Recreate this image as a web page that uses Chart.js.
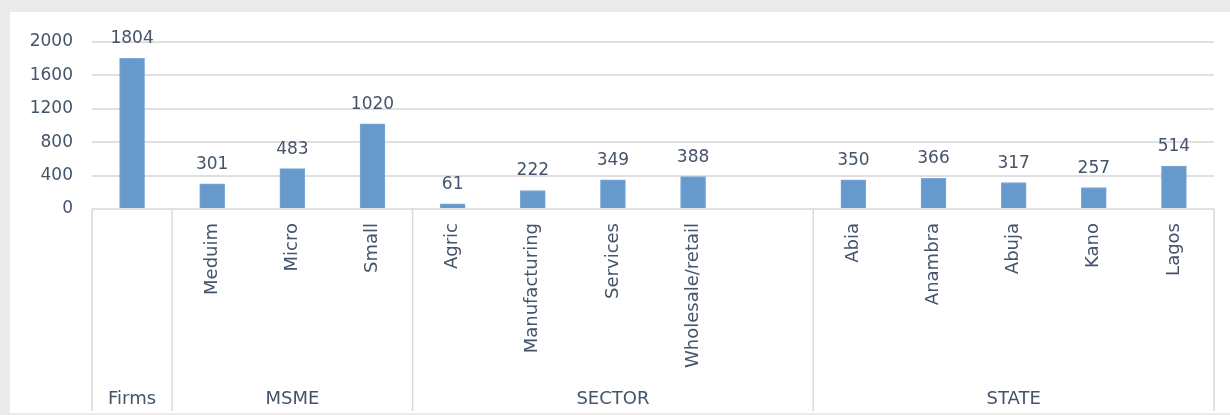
<!DOCTYPE html>
<html>
<head>
<meta charset="utf-8">
<script src="https://cdn.jsdelivr.net/npm/chart.js@4"></script>
<style>
    html, body { margin: 0; padding: 0; background: #ebebeb; }
    #panel { position: absolute; left: 10px; top: 12px; width: 1220px; height: 401px; background: #ffffff; }
</style>
</head>
<body>
<div id="panel"><canvas id="chart" width="1220" height="401"></canvas></div>
<script>
// Categories (inner level), one slot per bar; blank slots have no bar
const categories = ["", "Meduim", "Micro", "Small", "Agric", "Manufacturing", "Services", "Wholesale/retail", "", "Abia", "Anambra", "Abuja", "Kano", "Lagos"];
const values = [1804, 301, 483, 1020, 61, 222, 349, 388, null, 350, 366, 317, 257, 514];

// Outer level of the category axis
const groupNames = ["Firms", "MSME", "SECTOR", "STATE"];
const groupSizes = [1, 3, 5, 5];

const yTicks = [0, 400, 800, 1200, 1600, 2000];

const TEXT = "#44546a";
const FONT = "DejaVu Sans";

// ==========================================
// Data labels above each bar, read from the bar elements
// ==========================================
const valueLabels = {
    id: "valueLabels",
    afterDatasetsDraw(chart) {
        const ctx = chart.ctx;
        const meta = chart.getDatasetMeta(0);
        ctx.save();
        ctx.font = "17px '" + FONT + "'";
        ctx.fillStyle = TEXT;
        ctx.textAlign = "center";
        ctx.textBaseline = "alphabetic";
        meta.data.forEach((bar, i) => {
            if (values[i] === null) return;
            ctx.fillText(String(values[i]), bar.x, bar.y - 15);
        });
        ctx.restore();
    }
};

// ==========================================
// Group separators and outer labels under the x axis
// ==========================================
const groupAxis = {
    id: "groupAxis",
    afterDraw(chart) {
        const ctx = chart.ctx;
        const x = chart.scales.x;
        const top = chart.chartArea.bottom;
        const bottom = chart.height - 2;
        const edge = (k) => {
            if (k === 0) return x.left;
            if (k === categories.length) return x.right;
            return (x.getPixelForTick(k - 1) + x.getPixelForTick(k)) / 2;
        };
        ctx.save();
        ctx.strokeStyle = "#d9d9d9";
        ctx.lineWidth = 1.5;
        ctx.font = "18px '" + FONT + "'";
        ctx.fillStyle = TEXT;
        ctx.textAlign = "center";
        ctx.textBaseline = "middle";
        let start = 0;
        groupSizes.forEach((size, g) => {
            const x0 = edge(start);
            const x1 = edge(start + size);
            ctx.beginPath();
            ctx.moveTo(x0, top);
            ctx.lineTo(x0, bottom);
            ctx.stroke();
            if (g === groupSizes.length - 1) {
                ctx.beginPath();
                ctx.moveTo(x1, top);
                ctx.lineTo(x1, bottom);
                ctx.stroke();
            }
            ctx.fillText(groupNames[g], (x0 + x1) / 2, 387);
            start += size;
        });
        ctx.restore();
    }
};

new Chart(document.getElementById("chart"), {
    type: "bar",
    data: {
        labels: categories,
        datasets: [{
            data: values,
            backgroundColor: "#6699cc",
            borderColor: "#7ea9d6",
            borderWidth: 1,
            barThickness: 25
        }]
    },
    options: {
        responsive: false,
        animation: false,
        layout: { padding: { top: 30, right: 16, bottom: 0, left: 0 } },
        plugins: {
            legend: { display: false },
            tooltip: { enabled: false }
        },
        scales: {
            x: {
                grid: { display: false },
                border: { display: false },
                ticks: {
                    autoSkip: false,
                    minRotation: 90,
                    maxRotation: 90,
                    padding: 6,
                    color: TEXT,
                    font: { family: FONT, size: 18 }
                },
                afterFit(scale) { scale.height = 204; }
            },
            y: {
                min: 0,
                max: 2000,
                afterBuildTicks(scale) { scale.ticks = yTicks.map(v => ({ value: v })); },
                grid: { color: "#e0e0e0", lineWidth: 2, drawTicks: false },
                border: { display: false },
                ticks: {
                    padding: 19,
                    color: TEXT,
                    font: { family: FONT, size: 17 },
                    callback: (v) => String(v)
                },
                afterFit(scale) { scale.width = 82; }
            }
        }
    },
    plugins: [valueLabels, groupAxis]
});
</script>
</body>
</html>
